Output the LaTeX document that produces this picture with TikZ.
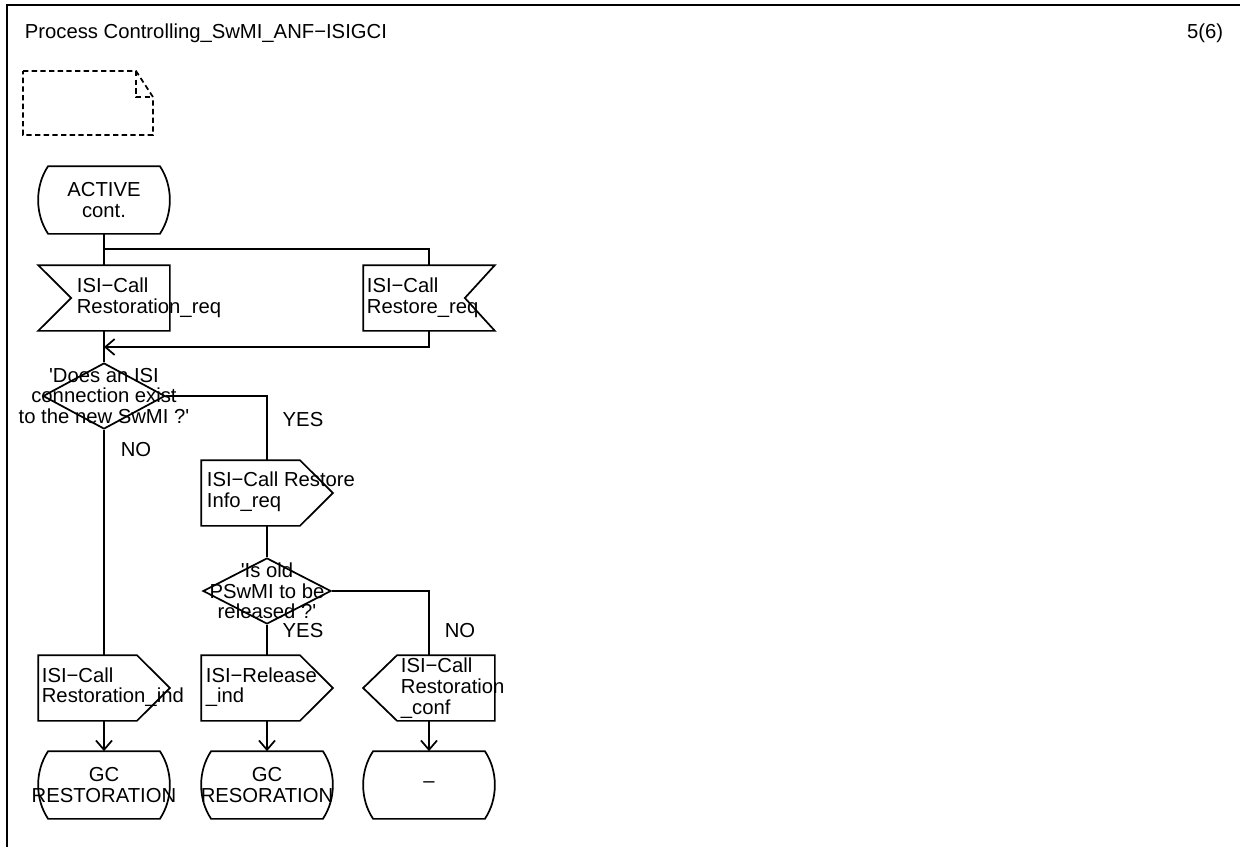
\documentclass[tikz,border=0pt]{standalone}
\usepackage{fontspec}
\newfontfamily\sdlfont{Liberation Sans}
\usetikzlibrary{arrows.meta,shapes.geometric}

\begin{document}
\begin{tikzpicture}[x=0.75pt,y=-0.75pt,line width=1.3pt,
  txt/.style={font=\sdlfont\fontsize{15.2}{15.5}\selectfont, inner sep=0pt, align=left},
  sdlbox/.style={draw=none, rectangle, inner sep=0pt, minimum width=97.5pt, minimum height=48pt},
  statebox/.style={sdlbox, minimum height=49.5pt},
  decision/.style={draw, diamond, inner sep=0pt, minimum height=49.5pt},
  notebox/.style={dash pattern=on 4pt off 2.5pt},
  arr/.style={-{Straight Barb[length=7pt,width=12pt]}}]
\useasboundingbox (0,0) rectangle (1240,847);
\draw[line width=2pt] (7,847) -- (7,5) -- (1240,5);
\node[txt, anchor=base west] (title) at (24,38) {Process Controlling\_SwMI\_ANF−ISIGCI};
\node[txt, anchor=base east] (page) at (1224,38) {5(6)};

% comment symbol
\draw[notebox] (23,71) -- (136,71) -- (153,97) -- (153,135) -- (23,135) -- cycle;
\draw[notebox] (136,71) -- (136,97) -- (153,97);

% symbols
\node[statebox] (st0) at (104,200) {};
\node[sdlbox] (in1) at (104,298) {};
\node[sdlbox] (in2) at (429,298) {};
\node[decision, minimum width=91.5pt] (d1) at (104,396) {};
\node[sdlbox] (out1) at (267,493) {};
\node[decision, minimum width=96pt] (d2) at (267,591) {};
\node[sdlbox] (out2) at (104,688) {};
\node[sdlbox] (out3) at (267,688) {};
\node[sdlbox] (out4) at (429,688) {};
\node[statebox] (st1) at (104,785) {};
\node[statebox] (st2) at (267,785) {};
\node[statebox] (st3) at (429,785) {};

\draw ([xshift=7.5pt]st0.north west) -- ([xshift=-7.5pt]st0.north east) .. controls ([xshift=2.5pt,yshift=-15pt]st0.north east) and ([xshift=2.5pt,yshift=15pt]st0.south east) .. ([xshift=-7.5pt]st0.south east) -- ([xshift=7.5pt]st0.south west) .. controls ([xshift=-2.5pt,yshift=15pt]st0.south west) and ([xshift=-2.5pt,yshift=-15pt]st0.north west) .. ([xshift=7.5pt]st0.north west) -- cycle;
\draw ([xshift=7.5pt]st1.north west) -- ([xshift=-7.5pt]st1.north east) .. controls ([xshift=2.5pt,yshift=-15pt]st1.north east) and ([xshift=2.5pt,yshift=15pt]st1.south east) .. ([xshift=-7.5pt]st1.south east) -- ([xshift=7.5pt]st1.south west) .. controls ([xshift=-2.5pt,yshift=15pt]st1.south west) and ([xshift=-2.5pt,yshift=-15pt]st1.north west) .. ([xshift=7.5pt]st1.north west) -- cycle;
\draw ([xshift=7.5pt]st2.north west) -- ([xshift=-7.5pt]st2.north east) .. controls ([xshift=2.5pt,yshift=-15pt]st2.north east) and ([xshift=2.5pt,yshift=15pt]st2.south east) .. ([xshift=-7.5pt]st2.south east) -- ([xshift=7.5pt]st2.south west) .. controls ([xshift=-2.5pt,yshift=15pt]st2.south west) and ([xshift=-2.5pt,yshift=-15pt]st2.north west) .. ([xshift=7.5pt]st2.north west) -- cycle;
\draw ([xshift=7.5pt]st3.north west) -- ([xshift=-7.5pt]st3.north east) .. controls ([xshift=2.5pt,yshift=-15pt]st3.north east) and ([xshift=2.5pt,yshift=15pt]st3.south east) .. ([xshift=-7.5pt]st3.south east) -- ([xshift=7.5pt]st3.south west) .. controls ([xshift=-2.5pt,yshift=15pt]st3.south west) and ([xshift=-2.5pt,yshift=-15pt]st3.north west) .. ([xshift=7.5pt]st3.north west) -- cycle;

\draw (in1.north west) -- (in1.north east) -- (in1.south east) -- (in1.south west) -- ([xshift=24.75pt]in1.west) -- cycle;
\draw (in2.north west) -- (in2.north east) -- ([xshift=-22.5pt]in2.east) -- (in2.south east) -- (in2.south west) -- cycle;
\draw (out1.north west) -- ([xshift=-24.75pt]out1.north east) -- (out1.east) -- ([xshift=-24.75pt]out1.south east) -- (out1.south west) -- cycle;
\draw (out2.north west) -- ([xshift=-24.75pt]out2.north east) -- (out2.east) -- ([xshift=-24.75pt]out2.south east) -- (out2.south west) -- cycle;
\draw (out3.north west) -- ([xshift=-24.75pt]out3.north east) -- (out3.east) -- ([xshift=-24.75pt]out3.south east) -- (out3.south west) -- cycle;
\draw (out4.north east) -- ([xshift=25.5pt]out4.north west) -- (out4.west) -- ([xshift=25.5pt]out4.south west) -- (out4.south east) -- cycle;

% flow lines
\coordinate (j1) at (104,249);
\coordinate (j2) at (104,347);
\draw (st0.south) -- (in1.north);
\draw (in2.north) |- (j1);
\draw (in1.south) -- (d1.north);
\draw[arr] (in2.south) |- (j2);
\draw (d1.east) -| (out1.north);
\draw (d1.south) -- (out2.north);
\draw (out1.south) -- (d2.north);
\draw (d2.south) -- (out3.north);
\draw (d2.east) -| (out4.north);
\draw[arr] (out2.south) -- (st1.north);
\draw[arr] (out3.south) -- (st2.north);
\draw[arr] (out4.south) -- (st3.north);

% texts
\node[txt, align=center] (st0t) at (st0) {ACTIVE\\cont.};
\node[txt, anchor=west] (in1t) at (76,298) {ISI−Call\\Restoration\_req};
\node[txt, anchor=west] (in2t) at (366,298) {ISI−Call\\Restore\_req};
\node[txt, align=center] (d1t) at (d1) {'Does an ISI\\connection exist\\to the new SwMI ?'};
\node[txt, anchor=west] (out1t) at (206,492) {ISI−Call Restore\\Info\_req};
\node[txt, align=center] (d2t) at (d2) {'Is old\\PSwMI to be\\released ?'};
\node[txt, anchor=west] (out2t) at (41,687) {ISI−Call\\Restoration\_ind};
\node[txt, anchor=west] (out3t) at (205,687) {ISI−Release\\\_ind};
\node[txt, anchor=west] (out4t) at (400,688) {ISI−Call\\Restoration\\\_conf};
\node[txt, align=center] (st1t) at (st1) {GC\\RESTORATION};
\node[txt, align=center] (st2t) at (st2) {GC\\RESORATION};
\node[txt, align=center] (st3t) at (st3) {–};
\node[txt] (yes1) at (303,420) {YES};
\node[txt] (no1) at (136,450) {NO};
\node[txt] (yes2) at (303,631) {YES};
\node[txt] (no2) at (460,631) {NO};
\end{tikzpicture}
\end{document}
